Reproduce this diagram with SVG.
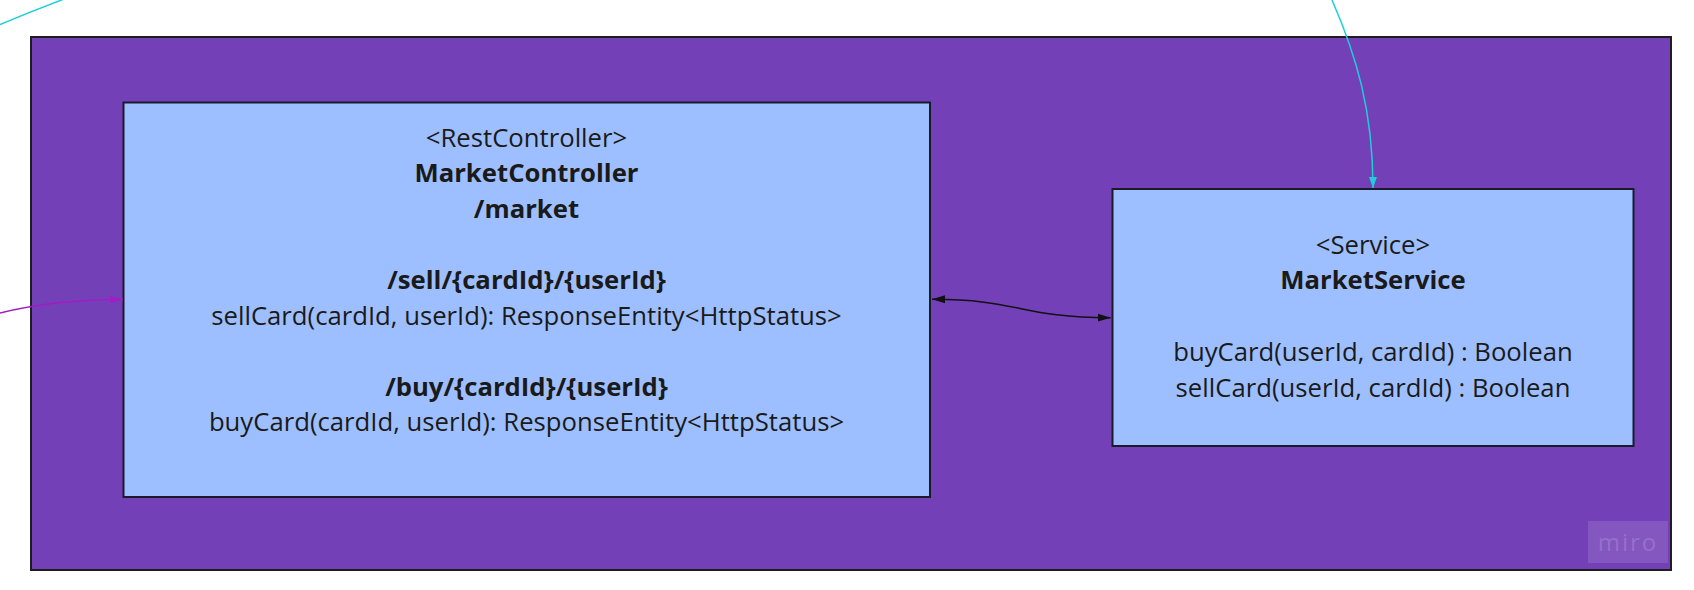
<svg xmlns="http://www.w3.org/2000/svg" width="1694" height="590" viewBox="0 0 1694 590">
<style>
.t{font-family:"Open Sans","Liberation Sans",sans-serif;font-size:25.7px;fill:#1a1a1a;text-anchor:middle}
.b{font-weight:bold}
.node{fill:#9ebfff;stroke:#1a1a2a;stroke-width:2}
</style>
<defs>
<marker id="ab" markerUnits="userSpaceOnUse" markerWidth="14" markerHeight="10" refX="13" refY="5" orient="auto-start-reverse" viewBox="0 0 14 10"><path d="M0 1 L13 5 L0 9 Z" fill="#111"/></marker>
<marker id="ac" markerUnits="userSpaceOnUse" markerWidth="12" markerHeight="10" refX="11" refY="5" orient="auto" viewBox="0 0 12 10"><path d="M0 1 L11 5 L0 9 Z" fill="#1ecfd8"/></marker>
<marker id="am" markerUnits="userSpaceOnUse" markerWidth="14" markerHeight="10" refX="13" refY="5" orient="auto" viewBox="0 0 14 10"><path d="M0 1.5 L13 5 L0 8.5 Z" fill="#a21cc4"/></marker>
</defs>
<rect width="1694" height="590" fill="#ffffff"/>
<g id="frame">
<rect x="31" y="37" width="1640" height="533" fill="#7340b8" stroke="#1e1e1e" stroke-width="2"/>
</g>
<g id="market-controller">
<rect class="node" x="123.5" y="102.5" width="806.5" height="394.5"/>
<text class="t" x="526.5" y="146.5">&lt;RestController&gt;</text>
<text class="t b" x="526.5" y="182.1">MarketController</text>
<text class="t b" x="526.5" y="217.7">/market</text>
<text class="t b" x="526.5" y="288.9">/sell/{cardId}/{userId}</text>
<text class="t" x="526.5" y="324.5">sellCard(cardId, userId): ResponseEntity&lt;HttpStatus&gt;</text>
<text class="t b" x="526.5" y="395.7">/buy/{cardId}/{userId}</text>
<text class="t" x="526.5" y="431.3">buyCard(cardId, userId): ResponseEntity&lt;HttpStatus&gt;</text>
</g>
<g id="market-service">
<rect class="node" x="1112.5" y="189" width="521" height="257"/>
<text class="t" x="1373" y="253.5">&lt;Service&gt;</text>
<text class="t b" x="1373" y="289.3">MarketService</text>
<text class="t" x="1373" y="360.9">buyCard(userId, cardId) : Boolean</text>
<text class="t" x="1373" y="396.7">sellCard(userId, cardId) : Boolean</text>
</g>
<g id="connectors" fill="none">
<path d="M932 299.3 C1020 299.3 1020 317.7 1110.7 317.7" stroke="#111" stroke-width="1.5" marker-start="url(#ab)" marker-end="url(#ab)"/>
<path d="M1332 0 C1356 55 1373 110 1373 188" stroke="#1ecfd8" stroke-width="1.5" marker-end="url(#ac)"/>
<path d="M0 24.5 Q30 12 64 -1" stroke="#1ecfd8" stroke-width="1.5"/>
<path d="M0 313 C40 303 80 299.5 123 299.5" stroke="#a21cc4" stroke-width="1.5" marker-end="url(#am)"/>
</g>
<g id="watermark">
<rect x="1588" y="521" width="80" height="42" fill="#ffffff" fill-opacity="0.12"/>
<text x="1628" y="551" font-family="Open Sans, Liberation Sans, sans-serif" font-size="24" fill="#ffffff" fill-opacity="0.16" text-anchor="middle" letter-spacing="2">miro</text>
</g>
</svg>
